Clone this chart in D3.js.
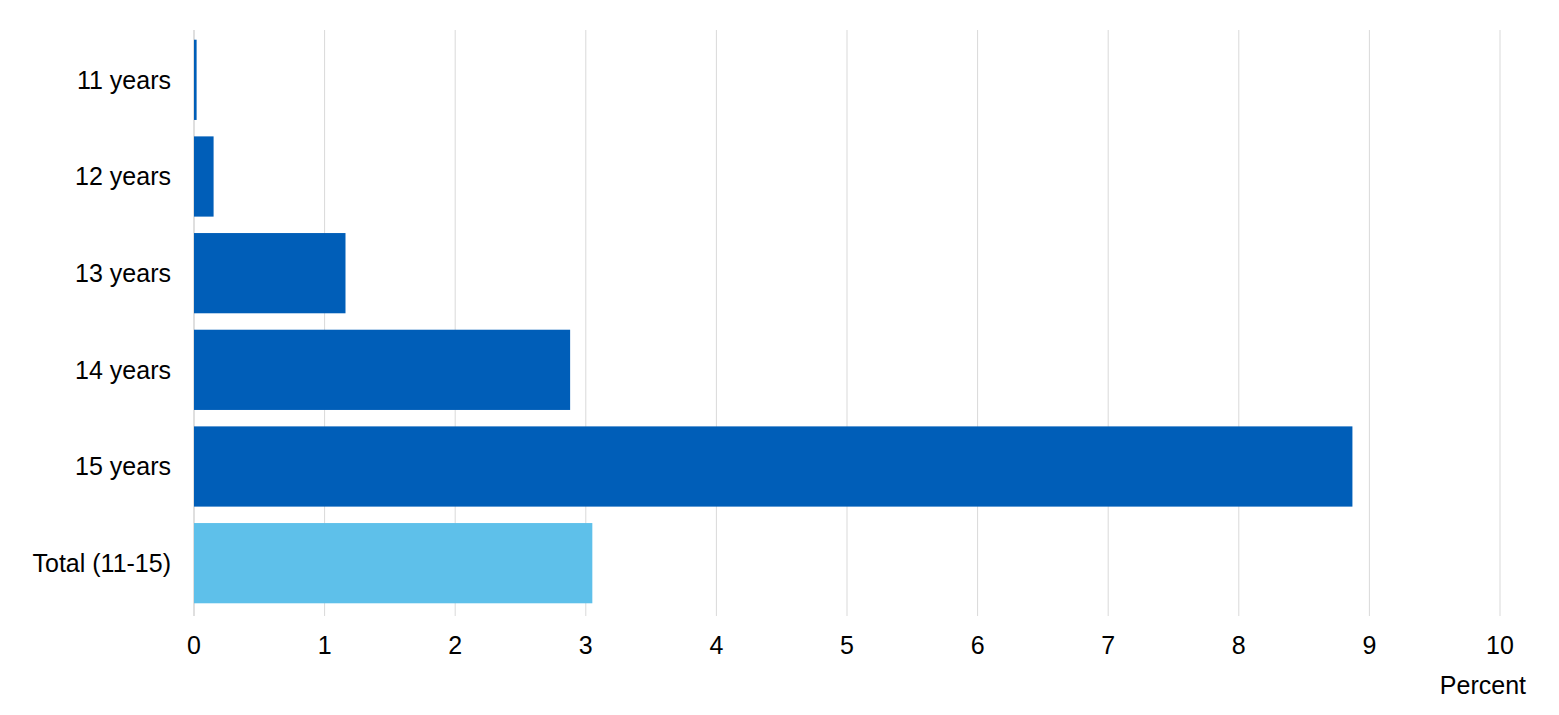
<!DOCTYPE html>
<html><head><meta charset="utf-8">
<script src="https://cdn.jsdelivr.net/npm/d3@7"></script>
<style>body{margin:0;background:#fff}text{font-family:Arial,"Liberation Sans",sans-serif}</style>
</head><body>
<svg id="c" width="1559" height="715"></svg>
<script>
const categories = ["11 years","12 years","13 years","14 years","15 years","Total (11-15)"];
const values = [0.02,0.15,1.16,2.88,8.87,3.05];
const ticks = [0,1,2,3,4,5,6,7,8,9,10];
const colors = ["#005EB8","#005EB8","#005EB8","#005EB8","#005EB8","#5EC0EA"];

const svg = d3.select("#c");
const x = d3.scaleLinear().domain([0,10]).range([194,1500]);
const y = d3.scaleBand().domain(categories).range([31.5,611.5]).paddingInner(0.17).paddingOuter(0.085);

svg.append("g").selectAll("line").data(ticks).join("line")
  .attr("x1",d=>x(d)).attr("x2",d=>x(d)).attr("y1",30).attr("y2",616)
  .attr("stroke",d=>d===0?"#bfbfbf":"#d9d9d9").attr("stroke-width",1);

svg.append("g").selectAll("rect").data(values).join("rect")
  .attr("x",x(0)).attr("y",(d,i)=>y(categories[i]))
  .attr("width",d=>x(d)-x(0)).attr("height",y.bandwidth())
  .attr("fill",(d,i)=>colors[i]);

svg.append("g").selectAll("text").data(categories).join("text")
  .attr("x",171).attr("y",d=>y(d)+y.bandwidth()/2).attr("dy","0.35em")
  .attr("text-anchor","end").attr("font-size",25).attr("fill","#000").text(d=>d);

svg.append("g").selectAll("text").data(ticks).join("text")
  .attr("x",d=>x(d)).attr("y",654).attr("text-anchor","middle")
  .attr("font-size",25).attr("fill","#000").text(d=>d);

svg.append("text").attr("x",1526).attr("y",694).attr("text-anchor","end")
  .attr("font-size",25).attr("fill","#000").text("Percent");
</script>
</body></html>
